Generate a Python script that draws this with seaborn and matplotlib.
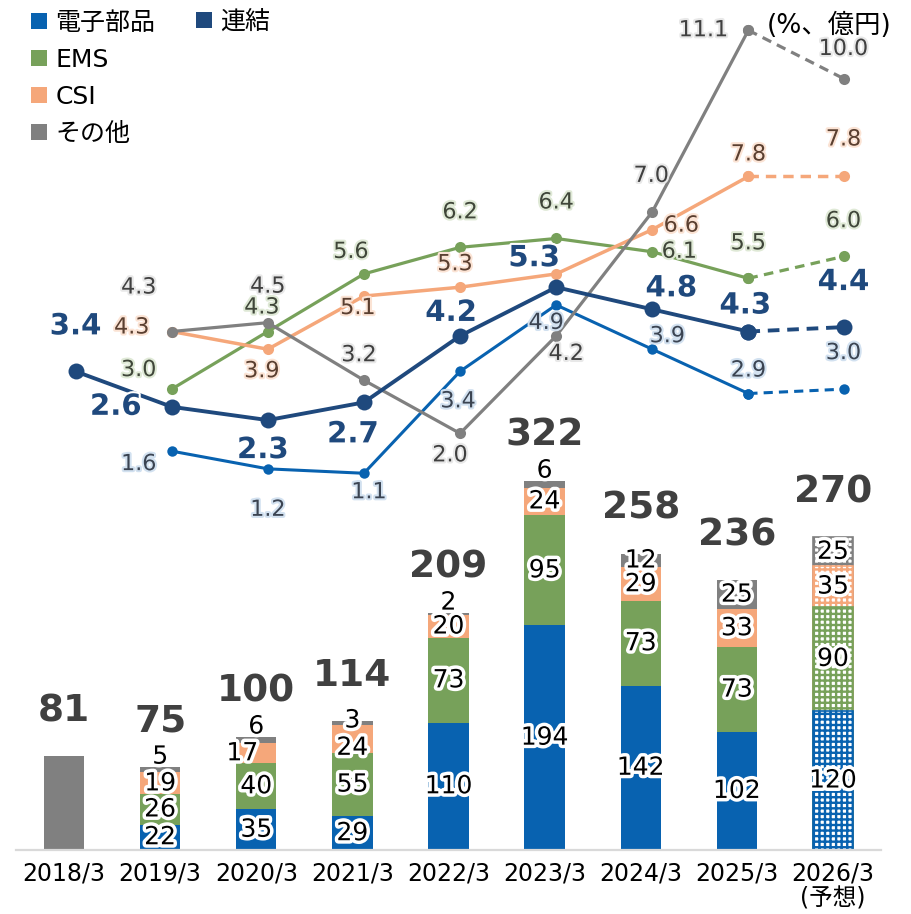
import numpy as np
import pandas as pd
import matplotlib
matplotlib.use("Agg")
import matplotlib.pyplot as plt
import matplotlib.patheffects as pe
from matplotlib.lines import Line2D
import seaborn as sns

# ---------------- data ----------------
categories = ["2018/3", "2019/3", "2020/3", "2021/3", "2022/3",
              "2023/3", "2024/3", "2025/3", "2026/3"]
tick_labels = ["2018/3", "2019/3", "2020/3", "2021/3", "2022/3",
               "2023/3", "2024/3", "2025/3", "2026/3\n(予想)"]

# 売上高 (億円)
sales_denshi = [np.nan, 22, 35, 29, 110, 194, 142, 102, 120]
sales_ems    = [np.nan, 26, 40, 55, 73, 95, 73, 73, 90]
sales_csi    = [np.nan, 19, 17, 24, 20, 24, 29, 33, 35]
sales_other  = [np.nan, 5, 6, 3, 2, 6, 12, 25, 25]
sales_total  = [81, 75, 100, 114, 209, 322, 258, 236, 270]

# 利益率 (%)
margin_renketsu = [3.4, 2.6, 2.3, 2.7, 4.2, 5.3, 4.8, 4.3, 4.4]
margin_denshi   = [np.nan, 1.6, 1.2, 1.1, 3.4, 4.9, 3.9, 2.9, 3.0]
margin_ems      = [np.nan, 3.0, 4.3, 5.6, 6.2, 6.4, 6.1, 5.5, 6.0]
margin_csi      = [np.nan, 4.3, 3.9, 5.1, 5.3, 5.6, 6.6, 7.8, 7.8]
margin_other    = [np.nan, 4.3, 4.5, 3.2, 2.0, 4.2, 7.0, 11.1, 10.0]

# ---------------- style ----------------
C_BLUE = "#0862B0"
C_GREEN = "#77A15A"
C_ORANGE = "#F5A77A"
C_GREY = "#808080"
C_NAVY = "#1F497D"
C_TEXT = "#404040"

sns.set_theme(style="white")
plt.rcParams["font.family"] = ["DejaVu Sans", "Noto Sans CJK JP"]
plt.rcParams["hatch.linewidth"] = 1.7

fig = plt.figure(figsize=(9.12, 9.14), dpi=100)
rect = [16 / 912, 64 / 914, 865 / 912, 850 / 914]
ax = fig.add_axes(rect)

n = len(categories)
idx = np.arange(n)
d = np.array(sales_denshi, float)
e = np.array(sales_ems, float)
c = np.array(sales_csi, float)
o = np.array(sales_other, float)
cum_layers = [
    ("その他", d + e + c + o, C_GREY),
    ("CSI", d + e + c, C_ORANGE),
    ("EMS", d + e, C_GREEN),
    ("電子部品", d, C_BLUE),
]
BAR_W = 0.42
forecast_idx = n - 1
for name, cum, col in cum_layers:
    df = pd.DataFrame({"year": categories, "v": cum}).dropna()
    sns.barplot(data=df, x="year", y="v", order=categories, color=col,
                saturation=1, width=BAR_W, ax=ax, errorbar=None, linewidth=0)
    cont = ax.containers[-1]
    for p in cont.patches:
        cx = p.get_x() + p.get_width() / 2
        if abs(cx - forecast_idx) < 0.3:
            p.set_facecolor("white")
            p.set_edgecolor(col)
            p.set_hatch("+++")
            p.set_linewidth(1.2)

# 2018/3 : total only
df0 = pd.DataFrame({"year": categories,
                    "v": [sales_total[0]] + [np.nan] * (n - 1)}).dropna()
sns.barplot(data=df0, x="year", y="v", order=categories, color=C_GREY,
            saturation=1, width=BAR_W, ax=ax, errorbar=None, linewidth=0)

PX = 0.72  # px -> pt
glow_w = [pe.withStroke(linewidth=5, foreground="white")]

# segment labels
seg_series = [sales_denshi, sales_ems, sales_csi, sales_other]
special = {(2, 2): (-14, 0), (2, 3): (0, 9)}
for s_i, vals in enumerate(seg_series):
    bottoms = np.zeros(n)
    for prev in seg_series[:s_i]:
        bottoms = bottoms + np.nan_to_num(np.array(prev, float))
    for i, v in enumerate(vals):
        if np.isnan(v):
            continue
        yc = bottoms[i] + v / 2
        dx, dy = special.get((s_i, i), (0, 0))
        if v < 10:
            yc = bottoms[i] + v
            dy = -1 if i == 3 else -10
        ax.annotate(f"{int(v)}", xy=(i, yc), xytext=(dx * PX, -dy * PX),
                    textcoords="offset points", ha="center", va="center",
                    fontsize=18, color="black", path_effects=glow_w, zorder=5)

# total labels
for i, t in enumerate(sales_total):
    top = t if i == 0 else np.nansum([d[i], e[i], c[i], o[i]])
    ax.annotate(f"{t}", xy=(i, top), xytext=(0, 45 * PX),
                textcoords="offset points", ha="center", va="center",
                fontsize=27, fontweight="bold", color=C_TEXT, zorder=5)

ax.set_xlim(-0.5, n - 0.5)
ax.set_ylim(0, 850 / 1.158)
ax.set_xticks(idx)
ax.set_xticklabels(tick_labels, fontsize=17, color="black", linespacing=1.05)
ax.tick_params(axis="x", length=0, pad=8)
ax.set_yticks([])
ax.set_xlabel("")
ax.set_ylabel("")
for sp in ["top", "left", "right"]:
    ax.spines[sp].set_visible(False)
ax.spines["bottom"].set_color("#d9d9d9")
ax.spines["bottom"].set_linewidth(1.6)
ax.patch.set_alpha(0)

# ---------------- lines ----------------
ax2 = fig.add_axes(rect)
OFF = 0.12
ax2.set_xlim(-0.5 - OFF, n - 0.5 - OFF)
ax2.set_ylim(-(850 - 522) / 44.3, 522 / 44.3)
ax2.axis("off")
ax2.patch.set_alpha(0)

line_specs = [
    (margin_denshi, C_BLUE, 2.2, 7.5, dict(fontsize=16, color="#3b4452"), "#d2e1f0",
     [None, (-33, 13), (0, 41), (5, 19), (-2, 30), (-10, 18), (15, -13), (0, -23), (-1, -36)]),
    (margin_ems, C_GREEN, 2.3, 8, dict(fontsize=16, color="#3f4639"), "#dfe9d6",
     [None, (-33, -19), (-6, -24), (-13, -22), (0, -35), (0, -36), (27, 0), (0, -35), (-1, -35)]),
    (margin_csi, C_ORANGE, 2.5, 8, dict(fontsize=16, color="#5a3f30"), "#fbe3d4",
     [None, (-40, -4), (-6, 22), (-6, 12), (-5, -23), None, (29, -4), (0, -22), (-1, -37)]),
    (margin_other, C_GREY, 2.3, 8, dict(fontsize=16, color=C_TEXT), "#e8e8e8",
     [None, (-33, -44), (0, -36), (-5, -25), (-10, 22), (10, 18), (-1, -36), (-45, 0), (-1, -30)]),
    (margin_renketsu, C_NAVY, 2.8, 11.5, dict(fontsize=21, color=C_NAVY, fontweight="bold"), "white",
     [(0, -45), (-56, 0), (-5, 30), (-11, 32), (-9, -23), (-22, -29), (19, -21), (-3, -26), (-1, -45)]),
]

for vals, col, lw, ms, lstyle, gcol, offs in line_specs:
    v = np.array(vals, float)
    solid_x = idx[:-1]
    solid_y = v[:-1]
    m = ~np.isnan(solid_y)
    sns.lineplot(x=solid_x[m], y=solid_y[m], ax=ax2, color=col, linewidth=lw,
                 marker="o", markersize=ms, markeredgewidth=0, zorder=3)
    sns.lineplot(x=idx[-2:], y=v[-2:], ax=ax2, color=col, linewidth=lw,
                 linestyle=(0, (3, 2)), marker="o", markersize=ms,
                 markeredgewidth=0, zorder=3)
    for i, val in enumerate(v):
        if np.isnan(val) or offs[i] is None:
            continue
        dx, dy = offs[i]
        ax2.annotate(f"{val:.1f}", xy=(i, val), xytext=(dx * PX, -dy * PX),
                     textcoords="offset points", ha="center", va="center",
                     path_effects=[pe.withStroke(linewidth=3, foreground=gcol)],
                     zorder=6, **lstyle)
ax2.set_xlabel("")
ax2.set_ylabel("")

# ---------------- legend & unit ----------------
def sq(col):
    return Line2D([], [], marker="s", linestyle="", markersize=12,
                  markerfacecolor=col, markeredgewidth=0)

leg1 = fig.legend([sq(C_BLUE), sq(C_GREEN), sq(C_ORANGE), sq(C_GREY)],
                  ["電子部品", "EMS", "CSI", "その他"],
                  loc="upper left", bbox_to_anchor=(29 / 912, 1 - 11 / 914),
                  frameon=False, fontsize=18, handlelength=0.8,
                  handletextpad=0.25, labelspacing=0.52, borderpad=0,
                  borderaxespad=0)
leg2 = fig.legend([sq(C_NAVY)], ["連結"],
                  loc="upper left", bbox_to_anchor=(194 / 912, 1 - 10 / 914),
                  frameon=False, fontsize=18, handlelength=0.8,
                  handletextpad=0.25, borderpad=0, borderaxespad=0)
for lg in (leg1, leg2):
    for t in lg.get_texts():
        t.set_color("black")

fig.text(892 / 912, 1 - 26 / 914, "(%、億円)", ha="right", va="center",
         fontsize=19, color="black")

fig.savefig("out.png", dpi=100)
